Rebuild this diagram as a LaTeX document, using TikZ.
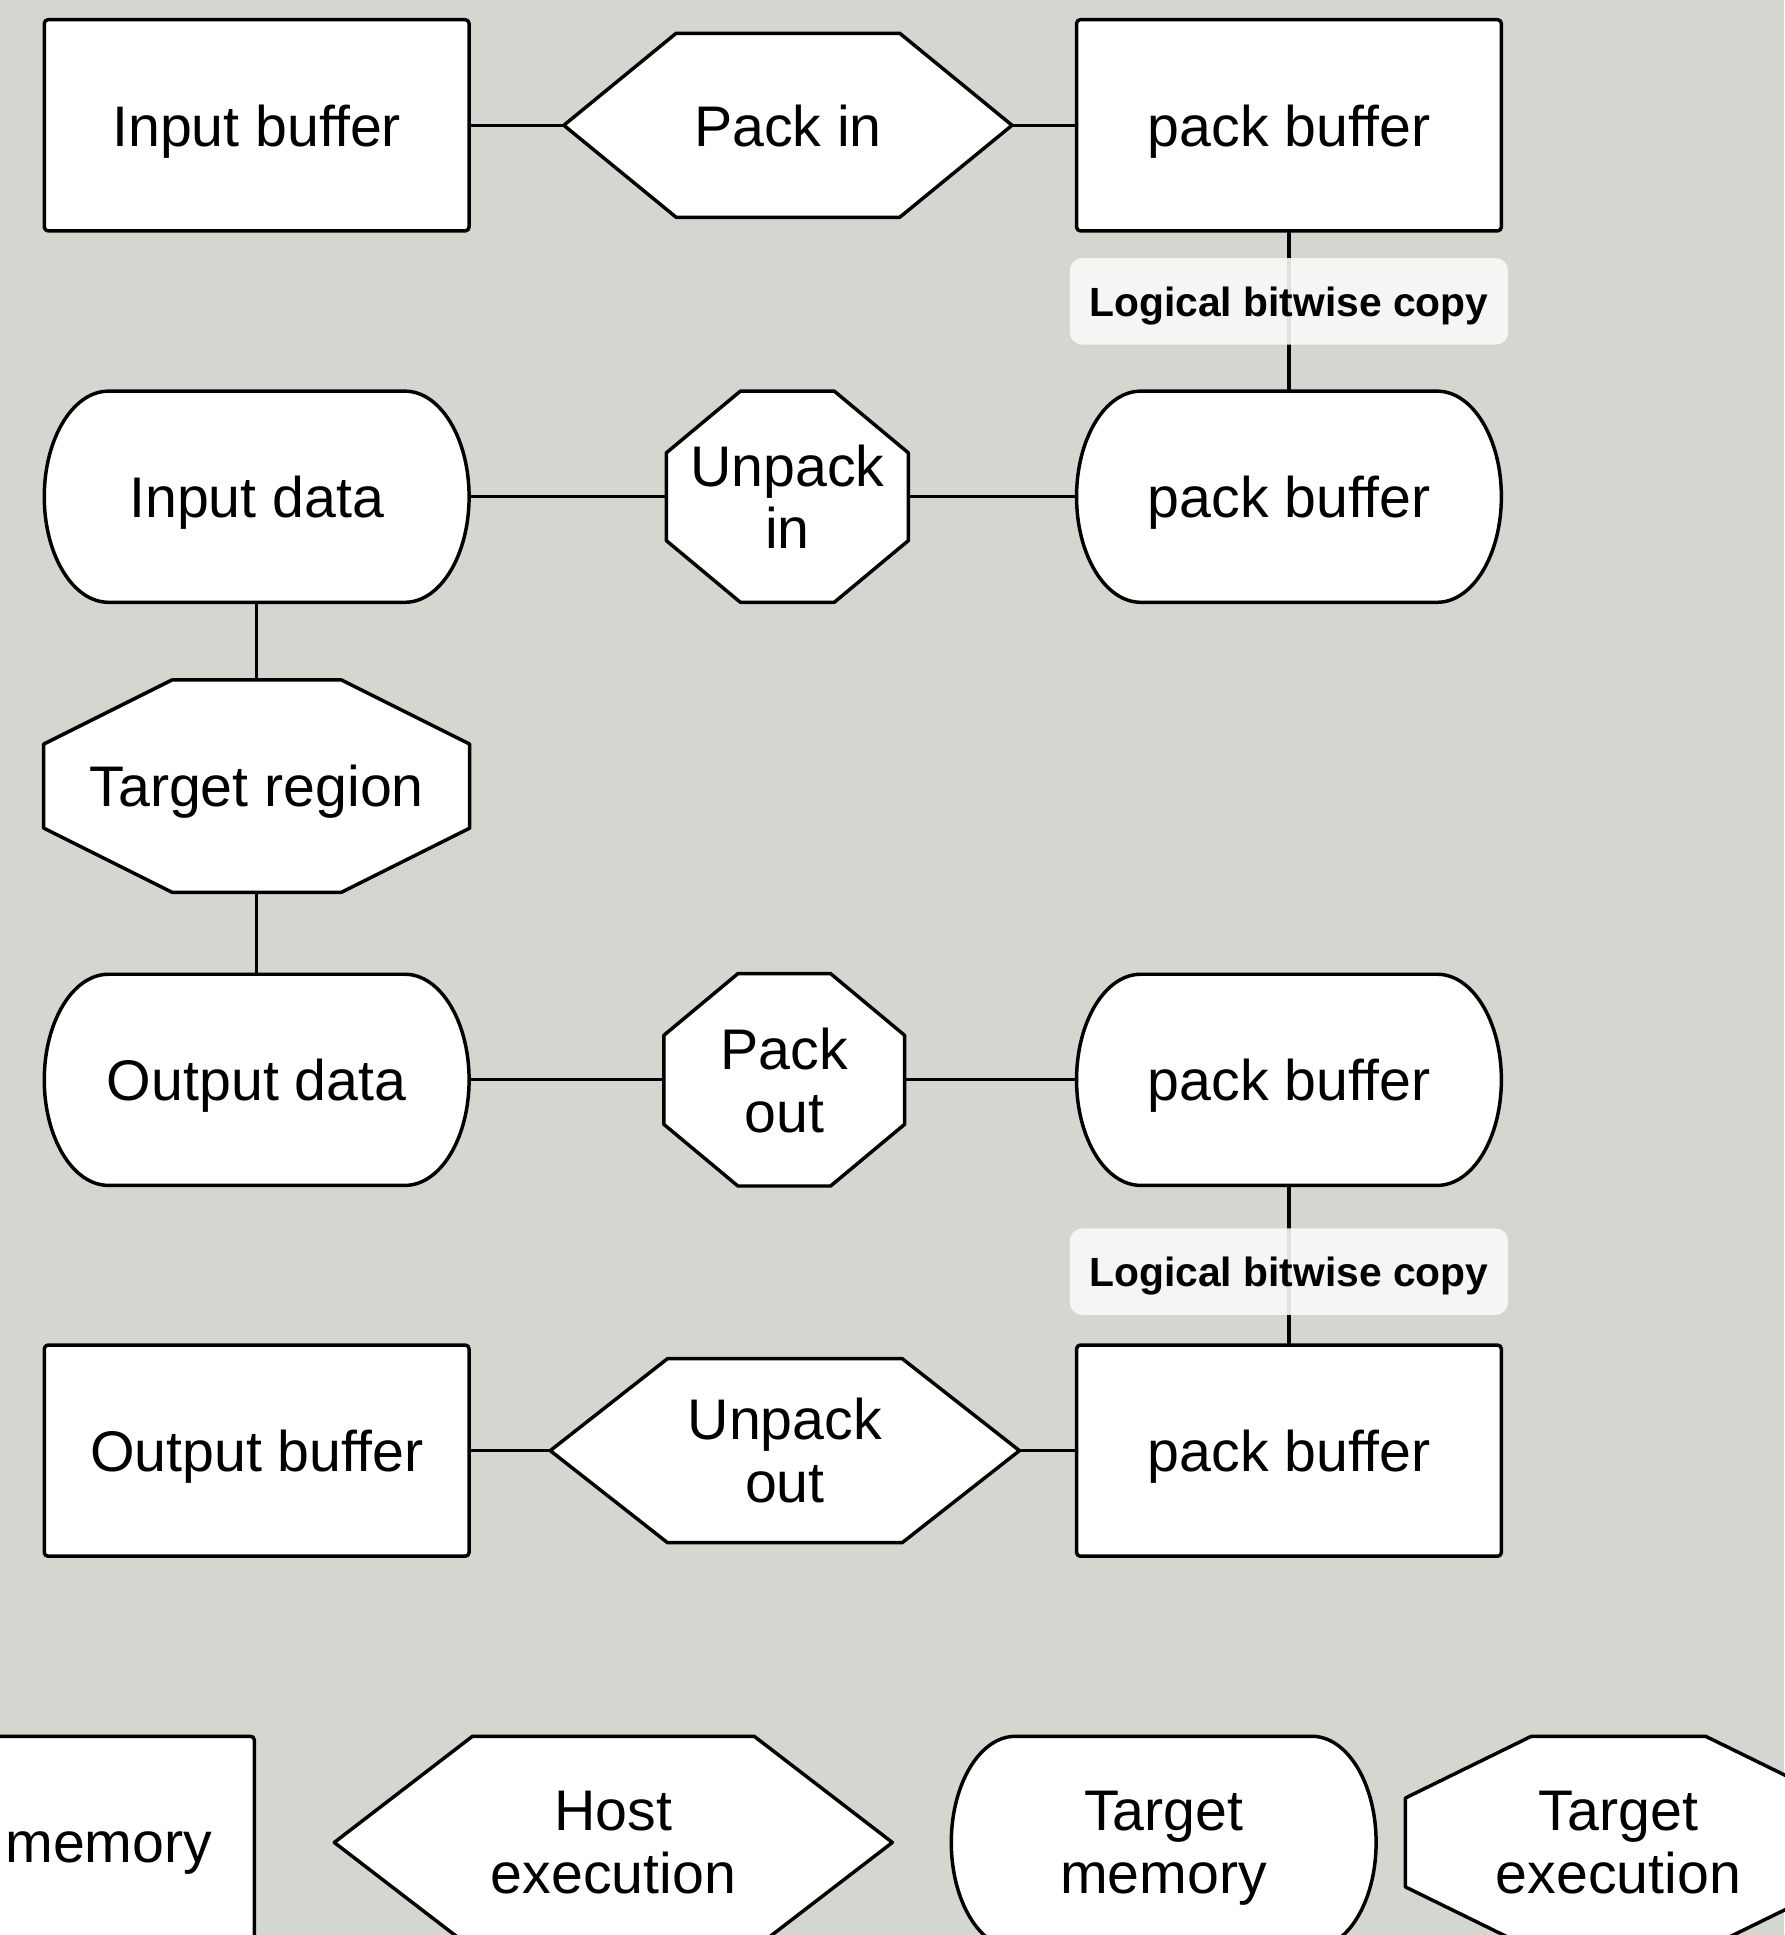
\documentclass[tikz,border=0pt]{standalone}
\usepackage{fontspec}
\setmainfont{Liberation Sans}
\usetikzlibrary{calc,backgrounds}

\definecolor{canvas}{RGB}{212,215,208}
\definecolor{tagfill}{RGB}{249,249,249}

% Outlines drawn around the (invisible) text nodes, using their anchors
\newcommand\rectoutline[1]{\draw[outline,rounded corners=0.03cm] (#1.north west) rectangle (#1.south east);}
\newcommand\hexoutline[2]{\draw[outline] (#1.west) -- ($(#1.north west)+(#2,0)$) -- ($(#1.north east)+(-#2,0)$) -- (#1.east) -- ($(#1.south east)+(-#2,0)$) -- ($(#1.south west)+(#2,0)$) -- cycle;}
\newcommand\octoutline[3]{\draw[outline] ($(#1.north west)+(#2,0)$) -- ($(#1.north east)+(-#2,0)$) -- ($(#1.north east)+(0,-#3)$) -- ($(#1.south east)+(0,#3)$) -- ($(#1.south east)+(-#2,0)$) -- ($(#1.south west)+(#2,0)$) -- ($(#1.south west)+(0,#3)$) -- ($(#1.north west)+(0,-#3)$) -- cycle;}
\newcommand\stadoutline[4]{\draw[outline] ($(#1.north west)+(#2,0)$) -- ($(#1.north east)+(-#2,0)$) arc[start angle=90,end angle=-90,x radius=#3,y radius=#4] -- ($(#1.south west)+(#2,0)$) arc[start angle=270,end angle=90,x radius=#3,y radius=#4] -- cycle;}

\tikzset{
  blk/.style={inner sep=0pt, outer sep=0pt, align=center, text=black, text depth=0pt,
    font=\fontsize{13.2pt}{14.5pt}\selectfont},
  sz/.style 2 args={minimum width=#1, minimum height=#2},
  wide/.style={blk, sz={3.44cm}{1.71cm}},
  outline/.style={draw=black, line width=0.8pt, fill=white, line join=round},
  link/.style={draw=black, line width=0.75pt},
  tag/.style={fill=tagfill, fill opacity=0.9, text opacity=1, rounded corners=0.1cm,
    minimum width=3.55cm, minimum height=0.70cm, inner sep=0pt, text=black, text depth=0pt,
    font=\bfseries\fontsize{9.4pt}{11pt}\selectfont},
}

\begin{document}
\begin{tikzpicture}[x=0.01cm,y=0.01cm]
\useasboundingbox (0,0) rectangle (1446,-1568);

% host side buffers and packing steps
\node[wide] (ib) at (208,-101.5) {Input buffer};
\node[blk, sz={3.63cm}{1.49cm}] (pin) at (638.5,-101.5) {Pack in};
\node[wide] (pb1) at (1044.5,-101.5) {pack buffer};

\node[wide] (id) at (208,-402.5) {Input data};
\node[blk, sz={1.96cm}{1.71cm}] (uin) at (638,-402.5) {Unpack\\in};
\node[wide] (pb2) at (1044.5,-402.5) {pack buffer};

\node[blk, sz={3.45cm}{1.72cm}] (tr) at (208,-637) {Target region};

\node[wide] (od) at (208,-875) {Output data};
\node[blk, sz={1.95cm}{1.72cm}] (pout) at (635.5,-875) {Pack\\out};
\node[wide] (pb3) at (1044.5,-875) {pack buffer};

\node[wide] (ob) at (208,-1175.5) {Output buffer};
\node[blk, sz={3.80cm}{1.49cm}] (uout) at (636,-1175.5) {Unpack\\out};
\node[wide] (pb4) at (1044.5,-1175.5) {pack buffer};

% legend
\node[blk, sz={3.44cm}{1.72cm}] (hm) at (34,-1493) {Host memory};
\node[blk, sz={4.52cm}{1.72cm}] (he) at (497,-1493) {Host\\execution};
\node[blk, sz={3.44cm}{1.72cm}] (tm) at (943,-1493) {Target\\memory};
\node[blk, sz={3.45cm}{1.72cm}] (te) at (1311.5,-1493) {Target\\execution};

\begin{scope}[on background layer]
  \fill[canvas] (0,0) rectangle (1446,-1568);

  % connectors
  \draw[link] (ib.east) -- (pin.west);
  \draw[link] (pin.east) -- (pb1.west);
  \draw[link] (pb1.south) -- node[tag, pos=0.44] (cp1) {Logical bitwise copy} (pb2.north);
  \draw[link] (id.east) -- (uin.west);
  \draw[link] (uin.east) -- (pb2.west);
  \draw[link] (id.south) -- (tr.north);
  \draw[link] (tr.south) -- (od.north);
  \draw[link] (od.east) -- (pout.west);
  \draw[link] (pout.east) -- (pb3.west);
  \draw[link] (pb3.south) -- node[tag, pos=0.54] (cp2) {Logical bitwise copy} (pb4.north);
  \draw[link] (ob.east) -- (uout.west);
  \draw[link] (uout.east) -- (pb4.west);

  % shapes
  \rectoutline{ib}
  \hexoutline{pin}{91}
  \rectoutline{pb1}
  \stadoutline{id}{52}{0.52cm}{0.855cm}
  \octoutline{uin}{60}{50}
  \stadoutline{pb2}{52}{0.52cm}{0.855cm}
  \octoutline{tr}{104}{52}
  \stadoutline{od}{52}{0.52cm}{0.855cm}
  \octoutline{pout}{60}{50}
  \stadoutline{pb3}{52}{0.52cm}{0.855cm}
  \rectoutline{ob}
  \hexoutline{uout}{95}
  \rectoutline{pb4}

  \rectoutline{hm}
  \hexoutline{he}{112}
  \stadoutline{tm}{52}{0.52cm}{0.86cm}
  \octoutline{te}{102}{50}
\end{scope}
\end{tikzpicture}
\end{document}
